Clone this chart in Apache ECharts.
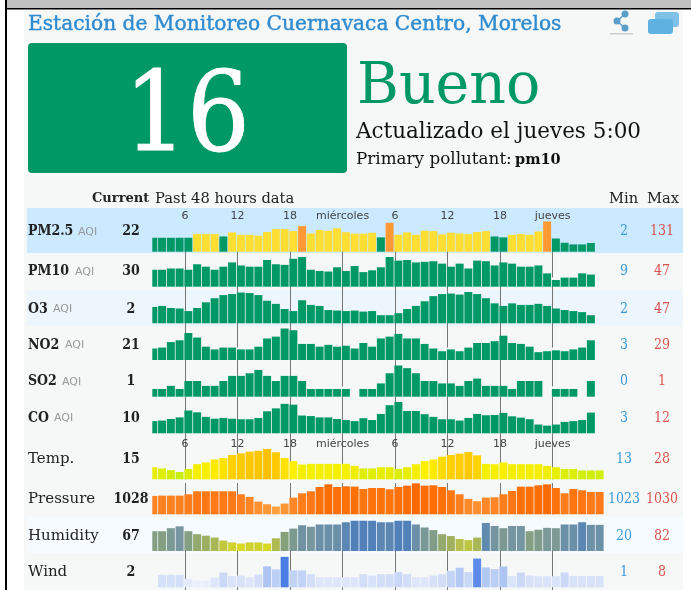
<!DOCTYPE html>
<html>
<head>
<meta charset="utf-8">
<title>Cuernavaca Centro</title>
<script src="https://cdn.jsdelivr.net/npm/echarts@6/dist/echarts.min.js"></script>
<style>
  html, body { margin: 0; padding: 0; background: #fff; }
  #chart { width: 691px; height: 590px; filter: blur(0.5px); }
</style>
</head>
<body>
<div id="chart"></div>
<script>
var rowNames = ['PM2.5', 'PM10', 'O3', 'NO2', 'SO2', 'CO', 'Temp.', 'Pressure', 'Humidity', 'Wind'];
var currentValues = ['22', '30', '2', '21', '1', '10', '15', '1028', '67', '2'];
var minValues = ['2', '9', '2', '3', '0', '3', '13', '1023', '20', '1'];
var maxValues = ['131', '47', '47', '29', '1', '12', '28', '1030', '82', '8'];
var hourTicks = [6, 12, 18, 24, 30, 36, 42, 48];
var dayLabels = { 24: 'miércoles', 48: 'jueves' };

var pm25 = [43, 43, 43, 43, 43, 63, 63, 63, 50, 72, 59, 59, 54, 74, 90, 90, 79, 106, 66, 85, 81, 94, 73, 65, 65, 70, 45, 124, 59, 72, 59, 81, 79, 61, 70, 66, 63, 74, 79, 50, 45, 59, 63, 59, 77, 131, 39, 16, 7, 7, 15];
var pm10 = [26, 26, 28, 28, 26, 35, 31, 26, 31, 38, 33, 31, 31, 42, 35, 34, 44, 47, 26, 24, 23, 30, 24, 32, 22, 25, 30, 47, 41, 42, 38, 39, 40, 36, 31, 36, 28, 41, 40, 33, 38, 36, 31, 31, 33, 20, 9, 13, 13, 20, 18];
var o3 = [18, 20, 16, 15, 10, 16, 27, 35, 41, 43, 46, 45, 41, 30, 24, 14, 10, 31, 22, 20, 12, 11, 10, 11, 9, 10, 2, 2, 6, 14, 20, 29, 39, 43, 44, 42, 47, 43, 35, 25, 20, 25, 22, 22, 24, 20, 15, 12, 10, 8, 2];
var no2 = [7, 8, 14, 16, 24, 19, 9, 6, 8, 8, 6, 6, 9, 18, 20, 29, 27, 12, 12, 9, 11, 9, 10, 7, 13, 9, 18, 20, 23, 18, 18, 12, 7, 4, 6, 4, 8, 13, 13, 15, 21, 13, 12, 9, 3, 4, 5, 4, 6, 8, 16];
var so2 = [0.35, 0.35, 0.49, 0.35, 0.71, 0.71, 0.49, 0.49, 0.71, 0.94, 0.94, 1.06, 1.21, 0.94, 0.71, 0.94, 0.94, 0.71, 0.35, 0.35, 0.35, 0.35, 0.35, null, 0.35, 0.35, 0.6, 1.06, 1.41, 1.29, 1.06, 0.71, 0.71, 0.6, 0.6, 0.49, 0.71, 0.82, 0.49, 0.49, 0.49, 0.35, 0.71, 0.71, 0.71, null, 0.35, 0.35, 0.35, null, 0.71];
var co = [4.6, 4.8, 5.4, 6, 8.6, 7.9, 6.2, 5.5, 5.8, 5.5, 5.3, 5.3, 5.8, 8.3, 9.4, 11.1, 10.8, 6.7, 6.5, 6, 6, 5.4, 5, 4.6, 5.7, 5, 7.3, 10.6, 11.8, 8.4, 8.4, 7.2, 6.2, 5.3, 5.3, 4.8, 5.8, 7.3, 6.8, 6.9, 7.7, 6.4, 5.9, 5.3, 3.3, 2.9, 3.3, 4.3, 4.6, 5, 7.8];
var temp = [16.1, 15.3, 14.2, 13, 15, 18.1, 19.3, 21.2, 22.1, 24.1, 25.2, 26.3, 26.9, 28, 25.9, 22.1, 20.1, 17.9, 18.3, 18.3, 18.3, 18.3, 18.3, 17, 15.3, 15.3, 16.1, 16.1, 15, 16.1, 18.1, 20.1, 21.2, 23, 24.1, 25, 26, 23.9, 18.3, 18.1, 19.3, 18.1, 18.1, 18.1, 18.1, 17, 16.1, 15, 15, 14, 14, 14];
var pressure = [1026.2, 1026.3, 1026.3, 1026.3, 1026.7, 1027.6, 1027.6, 1027.6, 1027.6, 1027.6, 1026.7, 1025.9, 1024.5, 1023.7, 1023, 1023.9, 1025.7, 1027, 1027.6, 1028.9, 1029.7, 1028.9, 1029.1, 1029, 1028.3, 1028.6, 1028.6, 1028.2, 1028.9, 1029.3, 1030, 1029.3, 1029.4, 1028.9, 1027.9, 1026.7, 1025.3, 1024.6, 1025.7, 1025.8, 1026.7, 1027.7, 1029, 1029, 1029.4, 1029.7, 1028.6, 1027, 1028.3, 1027.9, 1027.4, 1027.4];
var humidity = [53, 53, 61, 66, 53, 45, 41, 36, 28, 23, 20, 23, 23, 20, 34, 51, 60, 69, 65, 71, 71, 71, 77, 81, 81, 81, 77, 77, 81, 81, 71, 63, 56, 45, 40, 32, 29, 36, 75, 67, 61, 67, 67, 53, 57, 62, 61, 71, 71, 77, 70, 70];
var wind = [null, 2.7, 2.7, 2.7, 1.5, 1, 1, 1.9, 3.4, 2.3, 2.5, 2, 2.8, 5.2, 4.3, 8, 4, 4, 2.9, 2, 2, 2, 2, 2, 2.9, 2.5, 2.9, 2.9, 3.5, 2.9, 2, 2, 2.5, 2.9, 3.9, 4.8, 3.5, 7.5, 4.9, 4.4, 5.2, 2.3, 3.4, 2.5, 2.3, 2.3, 2.3, 3.4, 2.4, 2.4, 2.4, 2.4];
var rowSeries = [pm25, pm10, o3, no2, so2, co, temp, pressure, humidity, wind];

// the site does not start its bars at zero, so every row has its own range
var rangeLow = [-32.4, -2, -13.7, -5.6, 0, 0, 8.2, 1020.66, 0, -0.96];
var rangeHigh = [139, 48.6, 47, 28.9, 1.41, 11.8, 28.7, 1030.1, 83, 8.1];

var gridTop = [220, 256, 292, 328.5, 365.5, 402, 448, 483, 520, 556.5];
var gridBottom = [251.7, 286.7, 323.3, 360, 396.7, 433.3, 479.3, 514.3, 551, 587.3];
var textY = [231.5, 271.5, 309, 345, 381.7, 418, 459, 499.3, 536, 572];
var aqiX = [78, 75, 53, 65, 62, 54];

var FIRST_HOUR = 2.38;   // hour position of the first, half cut bar
var BAR_WIDTH = 8;
var AQI_PIECES = [{ lte: 50, color: '#009966' }, { gt: 50, lte: 100, color: '#ffde33' }, { gt: 100, color: '#ff9933' }];
var TEMP_COLORS = ['#c8ee12', '#eeee00', '#fff000', '#ffd000', '#ffc000'];
var PRESSURE_COLORS = ['#ff9e3d', '#ff8020', '#ff6a00'];
var HUMIDITY_COLORS = ['#d9d825', '#aab855', '#86a07c', '#7696a0', '#4f80bb'];
var WIND_COLORS = ['#eaeffc', '#ccdaf7', '#a6c0f2', '#4a7de6'];

var SERIF = '"DejaVu Serif", serif';
var COND = '"DejaVu Serif Condensed", "DejaVu Serif", serif';

function text(x, y, str, size, color, opts) {
  opts = opts || {};
  var style = {
    text: str, x: x, y: y, fill: color,
    fontFamily: opts.family || SERIF,
    fontSize: size,
    fontWeight: opts.bold ? 'bold' : 'normal',
    textAlign: opts.align || 'left',
    textVerticalAlign: 'middle'
  };
  if (opts.heavy) {
    style.stroke = color;
    style.lineWidth = opts.heavy;
  }
  return { type: 'text', z: 5, style: style };
}

function rect(x, y, w, h, color, r) {
  return { type: 'rect', shape: { x: x, y: y, width: w, height: h, r: r || 0 }, style: { fill: color }, z: -5 };
}

// drawn from the bottom of the grid so the row range decides the height
function renderBar(params, api) {
  var x = api.value(0), v = api.value(1);
  if (isNaN(v)) return;
  var top = api.coord([x, v]);
  var base = params.coordSys.y + params.coordSys.height;
  var shape = echarts.graphic.clipRectByRect({
    x: top[0] - BAR_WIDTH / 2, y: top[1], width: BAR_WIDTH, height: base - top[1]
  }, params.coordSys);
  return { type: 'rect', shape: shape, style: { fill: api.visual('color') } };
}

var grids = [], xAxes = [], yAxes = [], series = [], maps = [];
var PANEL = [
  rect(24, 10, 659, 580, '#f6f8f8'),
  rect(27, 208, 656, 45, '#cbeaff'),
  rect(27, 290, 656, 36, '#edf6fd'),
  rect(27, 517, 656, 36, '#f5fbff'),
  rect(0, 0, 691, 8, '#c0c0c0'),
  rect(5, 8, 686, 1.6, '#000'),
  rect(5, 0, 2, 590, '#000'),
  rect(0, 0, 5, 590, '#fff'),
  rect(28, 43, 319, 130, '#009966', 4)
];
var texts = [
  text(28, 24.5, 'Estación de Monitoreo Cuernavaca Centro, Morelos', 20.2, '#2e8bd0', { heavy: 0.4 }),
  text(187, 121, '16', 110, '#fff', { align: 'center', family: COND, heavy: 0.8 }),
  text(357, 88, 'Bueno', 57, '#009966'),
  text(356, 132, 'Actualizado el jueves 5:00', 21.5, '#111'),
  text(356, 160, 'Primary pollutant: ', 16.8, '#111'),
  text(515, 160, 'pm10', 14.5, '#111', { bold: true }),
  text(92, 199, 'Current', 13, '#222', { bold: true }),
  text(155, 199, 'Past 48 hours data', 14.7, '#222'),
  text(609, 199, 'Min', 14.7, '#222'),
  text(647, 199, 'Max', 14.7, '#222'),
  // share icon
  { type: 'circle', shape: { cx: 625, cy: 14, r: 3.5 }, style: { fill: '#5b9fc9' }, z: 5 },
  { type: 'circle', shape: { cx: 617, cy: 21, r: 3.5 }, style: { fill: '#5b9fc9' }, z: 5 },
  { type: 'circle', shape: { cx: 625, cy: 28, r: 3.5 }, style: { fill: '#5b9fc9' }, z: 5 },
  { type: 'polyline', shape: { points: [[625, 14], [617, 21], [625, 28]] }, style: { stroke: '#5b9fc9', lineWidth: 1.5, fill: null }, z: 5 },
  { type: 'rect', shape: { x: 610, y: 33, width: 23, height: 1.5 }, style: { fill: '#c9cdcf' }, z: 5 },
  // layers icon
  { type: 'rect', shape: { x: 655, y: 12, width: 24, height: 15, r: 3 }, style: { fill: '#7fc1e6' }, z: 5 },
  { type: 'rect', shape: { x: 648, y: 19, width: 25, height: 15, r: 3 }, style: { fill: '#5fb2e0' }, z: 6 }
];

var scaleColors = [TEMP_COLORS, PRESSURE_COLORS, HUMIDITY_COLORS, WIND_COLORS];
var scaleLow = [13, 1023, 20, 1];
var scaleHigh = [28, 1030, 82, 8];

rowSeries.forEach(function (values, i) {
  var isAqi = i < 6;
  var labelled = i === 0 || i === 6;
  var h = gridBottom[i] - gridTop[i];
  grids.push({ left: 152.3, width: 451.7, top: gridTop[i], height: h });
  xAxes.push({
    gridIndex: i,
    type: 'value',
    position: 'top',
    min: 2.26,
    max: 53.88,
    splitLine: { show: false },
    axisLine: { show: false },
    axisTick: { show: true, inside: true, customValues: hourTicks, length: h, lineStyle: { color: '#777', width: 1 } },
    axisLabel: {
      show: labelled,
      customValues: hourTicks,
      margin: -2,
      fontFamily: '"DejaVu Sans", sans-serif',
      fontSize: 11,
      color: '#444',
      formatter: function (v) { return dayLabels[v] || String(v % 24); }
    }
  });
  yAxes.push({ gridIndex: i, type: 'value', min: rangeLow[i], max: rangeHigh[i], show: false, splitLine: { show: false } });
  series.push({
    type: 'custom',
    xAxisIndex: i,
    yAxisIndex: i,
    silent: true,
    renderItem: renderBar,
    encode: { x: 0, y: 1 },
    data: values.map(function (v, j) { return [j + FIRST_HOUR, v]; })
  });
  if (isAqi) {
    maps.push({ type: 'piecewise', show: false, seriesIndex: i, dimension: 1, pieces: AQI_PIECES });
  } else {
    maps.push({ type: 'continuous', show: false, seriesIndex: i, dimension: 1, min: scaleLow[i - 6], max: scaleHigh[i - 6], inRange: { color: scaleColors[i - 6] } });
  }

  // left column, current value and min / max
  if (isAqi) {
    texts.push(text(28, textY[i], rowNames[i], 14, '#222', { bold: true, family: COND }));
    texts.push({ type: 'text', z: 5, style: { text: 'AQI', x: aqiX[i], y: textY[i] + 0.5, fontFamily: '"DejaVu Sans", sans-serif', fontSize: 11, fill: '#999', textVerticalAlign: 'middle' } });
  } else {
    texts.push(text(28, textY[i], rowNames[i], 15, '#222'));
  }
  texts.push(text(131, textY[i], currentValues[i], 14, '#222', { bold: true, align: 'center', family: COND }));
  texts.push(text(624, textY[i], minValues[i], 14, '#3b9ad9', { align: 'center', family: COND }));
  texts.push(text(662, textY[i], maxValues[i], 14, '#d9534f', { align: 'center', family: COND }));
});

var chart = echarts.init(document.getElementById('chart'), null, { renderer: 'canvas' });
chart.setOption({
  animation: false,
  backgroundColor: '#fff',
  tooltip: { show: false },
  grid: grids,
  xAxis: xAxes,
  yAxis: yAxes,
  visualMap: maps,
  series: series,
  graphic: { elements: PANEL.concat(texts) }
});
</script>
</body>
</html>
